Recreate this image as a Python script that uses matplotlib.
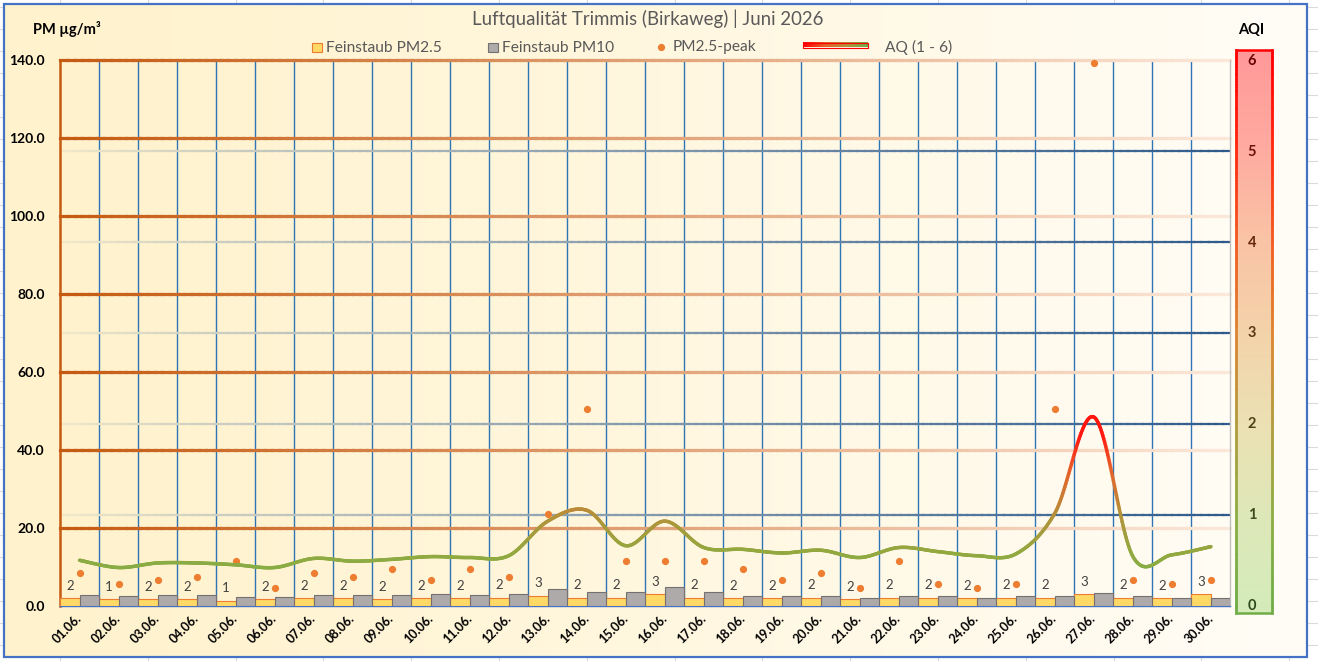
import numpy as np
import matplotlib
matplotlib.use("Agg")
import matplotlib.pyplot as plt
from matplotlib.collections import LineCollection
from matplotlib.patches import Rectangle
from matplotlib.colors import LinearSegmentedColormap, to_rgb

# ---------------- data ----------------
dates = ["01.06.", "02.06.", "03.06.", "04.06.", "05.06.", "06.06.", "07.06.", "08.06.",
         "09.06.", "10.06.", "11.06.", "12.06.", "13.06.", "14.06.", "15.06.", "16.06.",
         "17.06.", "18.06.", "19.06.", "20.06.", "21.06.", "22.06.", "23.06.", "24.06.",
         "25.06.", "26.06.", "27.06.", "28.06.", "29.06.", "30.06."]
pm25 = [1.9, 1.6, 1.6, 1.6, 1.3, 1.6, 1.9, 1.9, 1.6, 1.9,
        1.9, 2.1, 2.6, 2.1, 2.1, 3.0, 2.1, 1.9, 1.9, 2.1,
        1.6, 2.1, 2.1, 1.9, 2.1, 2.1, 3.0, 2.1, 1.9, 3.0]
pm10 = [2.75, 2.5, 2.75, 2.75, 2.2, 2.2, 2.75, 2.75, 2.75, 3.0,
        2.75, 3.0, 4.4, 3.4, 3.4, 4.7, 3.4, 2.6, 2.4, 2.4,
        2.1, 2.4, 2.4, 2.1, 2.4, 2.6, 3.3, 2.6, 2.1, 2.1]
pm25_peak = [8.3, 5.5, 6.5, 7.4, 11.5, 4.5, 8.3, 7.4, 9.3, 6.5,
             9.3, 7.3, 23.5, 50.4, 11.4, 11.4, 11.4, 9.3, 6.5, 8.3,
             4.5, 11.4, 5.5, 4.5, 5.5, 50.4, 139.3, 6.5, 5.5, 6.5]
aqi_labels = [2, 1, 2, 2, 1, 2, 2, 2, 2, 2,
              2, 2, 3, 2, 2, 3, 2, 2, 2, 2,
              2, 2, 2, 2, 2, 2, 3, 2, 2, 3]
aq_line = [0.50, 0.42, 0.47, 0.47, 0.45, 0.42, 0.52, 0.49, 0.51, 0.54,
           0.53, 0.55, 0.93, 1.05, 0.66, 0.93, 0.64, 0.62, 0.58, 0.61,
           0.53, 0.64, 0.595, 0.55, 0.57, 1.02, 2.075, 0.54, 0.56, 0.65]
pm_ticks = [0, 20, 40, 60, 80, 100, 120, 140]
aqi_ticks = [0, 1, 2, 3, 4, 5, 6]
title = "Luftqualität Trimmis (Birkaweg) | Juni 2026"
legend_labels = ["Feinstaub PM2.5", "Feinstaub PM10", "PM2.5-peak", "AQ (1 - 6)"]

plt.rcParams['font.family'] = ['Lato', 'DejaVu Sans']

W, H, DPI = 1318, 661, 100
fig = plt.figure(figsize=(W / DPI, H / DPI), dpi=DPI)
fig.patch.set_facecolor('white')

# ---------------- background (pixel coordinates) ----------------
bg = fig.add_axes([0, 0, 1, 1], zorder=0)
bg.axis('off')
for gx in np.arange(60 - 87.8, W + 90, 87.8):
    bg.plot([gx, gx], [0, H], color='#DADADA', lw=0.8, zorder=0)
for gy in np.arange(7, H + 22, 22):
    bg.plot([0, W], [gy, gy], color='#DADADA', lw=0.8, zorder=0)

c_left = np.array([255, 242, 204]) / 255
c_right = np.array([255, 253, 247]) / 255
CX0, CX1 = 4, 1307


def bg_color(px):
    f = np.clip((np.asarray(px) - CX0) / (CX1 - CX0), 0, 1) ** 1.15
    return c_left[None, :] * (1 - f[:, None]) + c_right[None, :] * f[:, None]


img = bg_color(np.linspace(CX0, CX1, 600))[None, :, :]
bg.imshow(img, extent=(CX0, CX1, 657, 4), aspect='auto', zorder=1, interpolation='bilinear')
bg.add_patch(Rectangle((4, 4), 1303, 653, fill=False, ec='#4472C4', lw=1.6, zorder=5))


def val2y(v):
    return 605.7 - v * 90.8


fill_cmap = LinearSegmentedColormap.from_list('fill', [
    (0.0, (212/255, 236/255, 185/255)), (1/6, (222/255, 232/255, 185/255)),
    (2/6, (236/255, 225/255, 180/255)), (3/6, (244/255, 211/255, 170/255)),
    (4/6, (250/255, 195/255, 165/255)), (5/6, (255/255, 170/255, 160/255)),
    (1.0, (255/255, 153/255, 153/255))])
border_cmap = LinearSegmentedColormap.from_list('border', [
    (0.0, '#70AD47'), (1/6, '#8EAE45'), (2/6, '#B39C3E'), (3/6, '#DD8533'),
    (4/6, '#F25C22'), (5/6, '#FF2A10'), (1.0, '#FF0000')])
yy = np.linspace(1, 0, 400)
box_img = fill_cmap(yy)[:, None, :3]
bx0, bx1, by0, by1 = 1236, 1272, 50, 613
bg.imshow(box_img, extent=(bx0, bx1, by1, by0), aspect='auto', zorder=2, interpolation='bilinear')
ys = np.linspace(by1, by0, 200)
vals = np.clip((605.7 - ys) / (6 * 90.8), 0, 1)
for bx in (bx0, bx1):
    segs = [[(bx, ys[i]), (bx, ys[i + 1])] for i in range(len(ys) - 1)]
    bg.add_collection(LineCollection(segs, colors=border_cmap(vals[:-1]), lw=1.8,
                                     capstyle='projecting', zorder=3))
bg.plot([bx0, bx1], [by0, by0], color='#FF0000', lw=1.8, zorder=3, solid_capstyle='projecting')
bg.plot([bx0, bx1], [by1, by1], color='#70AD47', lw=1.8, zorder=3, solid_capstyle='projecting')
for v in aqi_ticks:
    c = np.array(to_rgb(border_cmap(v / 6))) * 0.42
    bg.text(1252, val2y(v), str(v), ha='center', va='center', fontsize=10.5,
            fontweight='bold', color=c, zorder=4)

# titles and axis captions
bg.text(647.5, 19, title, ha='center', va='center', fontsize=13.4, color='#595959', zorder=6)
bg.text(33, 29, "PM µg/m³", ha='left', va='center', fontsize=10.5, fontweight='bold',
        color='black', zorder=6)
bg.text(1251, 30, "AQI", ha='center', va='center', fontsize=10.5, fontweight='bold',
        color='black', zorder=6)

# legend
ly = 47.5
LFS = 11.2
bg.add_patch(Rectangle((312, ly - 4.8), 9.5, 9.5, fc='#FFD966', ec='#ED7D31', lw=0.8, zorder=6))
bg.text(326, ly, legend_labels[0], ha='left', va='center', fontsize=LFS, color='#595959', zorder=6)
bg.add_patch(Rectangle((488, ly - 4.8), 9.5, 9.5, fc='#AEAAAA', ec='#767171', lw=0.8, zorder=6))
bg.text(502, ly, legend_labels[1], ha='left', va='center', fontsize=LFS, color='#595959', zorder=6)
bg.plot([660.7], [ly - 0.5], 'o', color='#ED7D31', ms=5.2, mec='none', zorder=6)
bg.text(673, ly, legend_labels[2], ha='left', va='center', fontsize=LFS, color='#595959', zorder=6)
leg_cmap = LinearSegmentedColormap.from_list('leg', ['#FF0000', '#E8602A', '#B4923A', '#70AD47'])
bg.imshow(leg_cmap(np.linspace(0, 1, 200))[None, :, :3], extent=(803, 868, 47.5, 43.1),
          aspect='auto', zorder=6, interpolation='bilinear')
bg.add_patch(Rectangle((803, 43.1), 65, 4.4, fill=False, ec='#FF0000', lw=0.8, zorder=7))
bg.text(885, ly, legend_labels[3], ha='left', va='center', fontsize=LFS, color='#595959', zorder=6)

bg.set_xlim(0, W)
bg.set_ylim(H, 0)

# ---------------- main axes ----------------
L, R, T, B = 60, 1230.5, 60.3, 605.7
ax = fig.add_axes([L / W, 1 - B / H, (R - L) / W, (B - T) / H], zorder=2)
ax.set_facecolor('none')
ax2 = ax.twinx()
ax2.set_ylim(0, 6)
ax2.axis('off')
n = len(dates)
x = np.arange(n)
ax.set_xlim(0, n)
ax.set_ylim(0, 140)

# vertical category gridlines
ax.vlines(np.arange(1, n), 0, 140, color='#2E75B6', lw=1.0, zorder=1)

# gradient gridlines (opaque colours so segments can overlap without seams)
NS = 160
xs = np.linspace(0, n, NS + 1)
xm = (xs[:-1] + xs[1:]) / 2
frac = xm / n
px = L + xm * (R - L) / n
oc0 = np.array([197, 90, 17]) / 255
oc1 = np.array([252, 232, 218]) / 255
ocols = oc0[None, :] * (1 - frac[:, None]) + oc1[None, :] * frac[:, None]
for v in pm_ticks[1:]:
    segs = [[(xs[i], v), (xs[i + 1], v)] for i in range(NS)]
    ax.add_collection(LineCollection(segs, colors=ocols, lw=2.3, capstyle='projecting',
                                     zorder=2, clip_on=False))

bcol = np.array(to_rgb('#2F5B8C'))
alphas = 0.05 + 0.95 * frac ** 0.8
bcols = bg_color(px) * (1 - alphas[:, None]) + bcol[None, :] * alphas[:, None]
for v in aqi_ticks[1:-1]:
    segs = [[(xs[i], v), (xs[i + 1], v)] for i in range(NS)]
    ax.add_collection(LineCollection(segs, colors=bcols, lw=1.6, capstyle='projecting',
                                     zorder=2.5, transform=ax2.transData))

# bars
ax.bar(x, pm25, width=0.5, align='edge', color='#FFD966', edgecolor='#ED7D31',
       lw=0.8, zorder=3)
ax.bar(x + 0.5, pm10, width=0.5, align='edge', color='#AEAAAA', edgecolor='#767171',
       lw=0.8, zorder=3)

# data labels
for i in range(n):
    ax.annotate(str(aqi_labels[i]), (x[i] + 0.25, pm25[i]), xytext=(0, 9),
                textcoords='offset points', ha='center', va='center', fontsize=9.5,
                color='#404040', zorder=4)

# peaks
ax.plot(x + 0.5, pm25_peak, 'o', color='#ED7D31', ms=5.2, mec='none', zorder=4,
        clip_on=False, ls='none')


# smoothed AQ line with colour gradient by value
def catmull_rom(px_, py_, steps=40):
    P = np.column_stack([px_, py_]).astype(float)
    P = np.vstack([P[0], P, P[-1]])
    out = []
    t = np.linspace(0, 1, steps, endpoint=False)[:, None]
    for i in range(1, len(P) - 2):
        p0, p1, p2, p3 = P[i - 1], P[i], P[i + 1], P[i + 2]
        c = 0.5 * ((2 * p1) + (-p0 + p2) * t + (2 * p0 - 5 * p1 + 4 * p2 - p3) * t ** 2
                   + (-p0 + 3 * p1 - 3 * p2 + p3) * t ** 3)
        out.append(c)
    out.append(P[-2][None, :])
    return np.vstack(out)


curve = catmull_rom(x + 0.5, aq_line)
line_cmap = LinearSegmentedColormap.from_list('aq', [
    (0.0, '#84AE46'), (0.12, '#84AE46'), (0.2, '#94A83F'), (0.33, '#B4923A'),
    (0.5, '#E8602A'), (0.62, '#FF1A10'), (1.0, '#FF0000')])
segs = np.stack([curve[:-1], curve[1:]], axis=1)
mid = (curve[:-1, 1] + curve[1:, 1]) / 2
ax.add_collection(LineCollection(segs, colors=line_cmap(np.clip(mid / 3.0, 0, 1)),
                                 lw=2.5, capstyle='round', joinstyle='round',
                                 zorder=5, transform=ax2.transData))

# axes styling
ax.spines['top'].set_visible(False)
ax.spines['left'].set_color('#C55A11')
ax.spines['left'].set_linewidth(1.8)
ax.spines['bottom'].set_color('#4472C4')
ax.spines['bottom'].set_linewidth(1.0)
ax.spines['right'].set_color('#BFBFBF')
ax.spines['right'].set_linewidth(1.0)

ax.set_yticks(pm_ticks, [f"{v:.1f}" for v in pm_ticks], fontsize=10, fontweight='bold')
ax.tick_params(axis='y', length=0, pad=11, colors='black')
ax.set_xticks(x + 0.5, dates, rotation=45, ha='right', va='center',
              rotation_mode='anchor', fontsize=9, fontweight='bold')
ax.tick_params(axis='x', length=0, pad=8, colors='black')

fig.savefig('out.png', dpi=DPI)
